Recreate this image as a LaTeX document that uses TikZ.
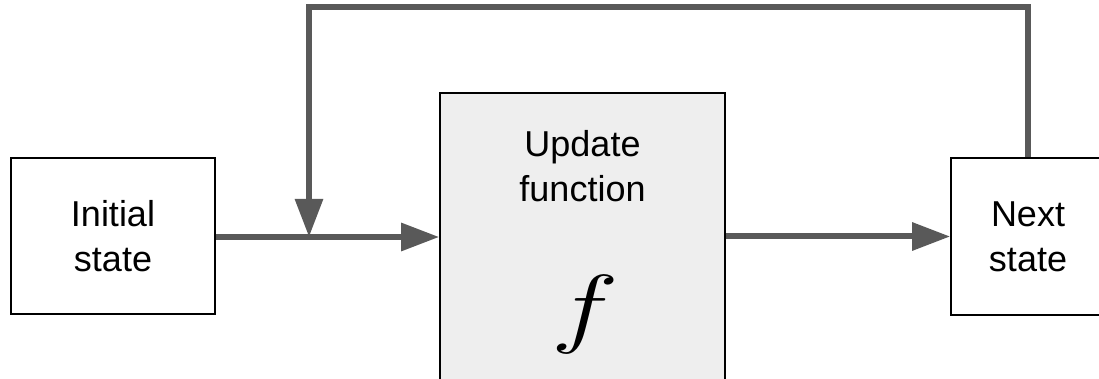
\RequirePackage{fix-cm}
\documentclass[tikz,border=0pt]{standalone}
\usepackage{fontspec}
\usepackage{graphicx}
\setmainfont{Liberation Sans}
\usetikzlibrary{arrows.meta}
\definecolor{flowgray}{HTML}{595959}
\definecolor{boxfill}{HTML}{EEEEEE}
\tikzset{
  box/.style={draw=black, line width=1.6pt, inner sep=0pt, align=center,
    font=\fontsize{36}{45}\selectfont},
  label/.style={inner sep=0pt, align=center, font=\fontsize{36}{45}\selectfont},
  flow/.style={draw=flowgray, line width=6pt,
    -{Triangle[length=38pt,width=27pt]}}
}
\begin{document}
\begin{tikzpicture}[x=1pt, y=-1pt]
  \useasboundingbox (0,0) rectangle (1099,379);

  % blocks
  \node[box, minimum width=204pt, minimum height=156pt] (init) at (113,236)
    {Initial\\state};
  \node[box, fill=boxfill, minimum width=285pt, minimum height=297pt] (upd)
    at (582.5,241.5) {};
  \node[box, minimum width=154pt, minimum height=157pt] (next) at (1028,236.5)
    {Next\\state};

  % text inside the update block
  \node[label] (updtext) at (582.5,166.5) {Update\\function};
  \node[anchor=base, inner sep=0pt, font=\fontsize{88}{88}\selectfont]
    (fsym) at (585,336) {\scalebox{1.3}[1]{$f$}};

  % forward path
  \coordinate (join) at (309,237);
  \coordinate (fbtop) at (309,7.5);
  \draw[flow] (init.east |- join) -- (join -| upd.west);
  \draw[flow] (next.west -| upd.east) -- (next.west);

  % feedback loop from the next state back into the input
  \draw[flow, line join=miter] (next.north) |- (fbtop) -- (join);
\end{tikzpicture}
\end{document}
